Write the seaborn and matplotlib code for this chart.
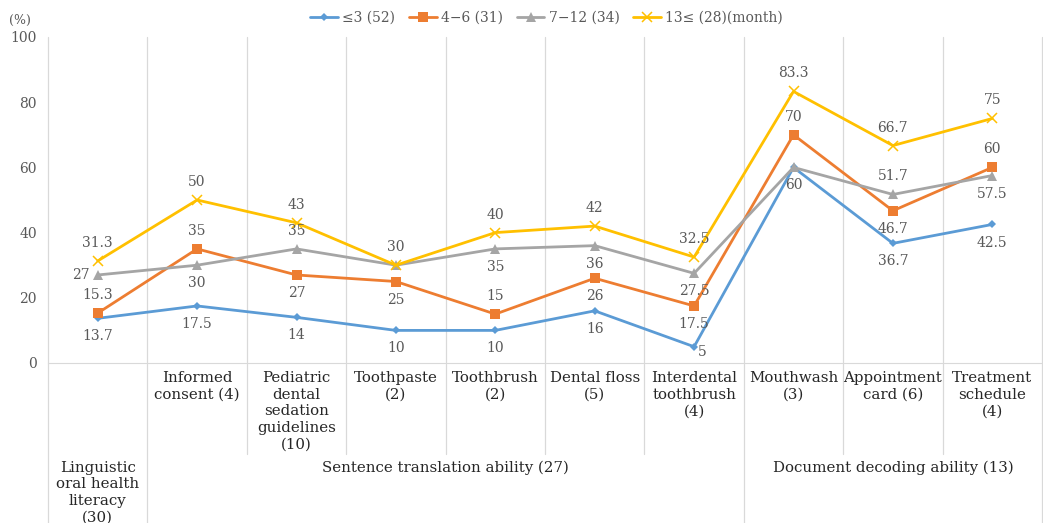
import pandas as pd
import matplotlib.pyplot as plt
import seaborn as sns

# categories and group headings
cats = ['', 'Informed\nconsent (4)', 'Pediatric\ndental\nsedation\nguidelines\n(10)',
        'Toothpaste\n(2)', 'Toothbrush\n(2)', 'Dental floss\n(5)', 'Interdental\ntoothbrush\n(4)',
        'Mouthwash\n(3)', 'Appointment\ncard (6)', 'Treatment\nschedule\n(4)']
groups = ['Linguistic\noral health\nliteracy\n(30)', 'Sentence translation ability (27)',
          'Document decoding ability (13)']
group_span = [(0, 0), (1, 6), (7, 9)]

series = ['≤3 (52)', '4−6 (31)', '7−12 (34)', '13≤ (28)(month)']
v_le3 = [13.7, 17.5, 14, 10, 10, 16, 5, 60, 36.7, 42.5]
v_4_6 = [15.3, 35, 27, 25, 15, 26, 17.5, 70, 46.7, 60]
v_7_12 = [27, 30, 35, 30, 35, 36, 27.5, 60, 51.7, 57.5]
v_13 = [31.3, 50, 43, 30, 40, 42, 32.5, 83.3, 66.7, 75]

# where each data label goes: 'a' above, 'b' below, 'l' left, 'r' lower right, '' none
pos_le3 = ['b', 'b', 'b', 'b', 'b', 'b', 'r', 'b', 'b', 'b']
pos_4_6 = ['a', 'a', 'b', 'b', 'a', 'b', 'b', 'a', 'b', 'a']
pos_7_12 = ['l', 'b', 'a', '', 'b', 'b', 'b', '', 'a', 'b']
pos_13 = ['a'] * 10

vals = [v_le3, v_4_6, v_7_12, v_13]
poss = [pos_le3, pos_4_6, pos_7_12, pos_13]
colors = ['#5B9BD5', '#ED7D31', '#A5A5A5', '#FFC000']
marks = ['D', 's', '^', 'x']
msize = [4.5, 7, 7, 6.5]

rows = []
for s, v in zip(series, vals):
    for i, y in enumerate(v):
        rows.append({'x': i, 'y': y, 'series': s})
df = pd.DataFrame(rows)

sns.set_style('white')
plt.rcParams['font.family'] = ['DejaVu Serif', 'DejaVu Sans']
txt = '#595959'
grid = '#D9D9D9'
fs = 10

fig = plt.figure(figsize=(10.43, 5.23), dpi=100)
ax = fig.add_axes([48 / 1043, 1 - 363 / 523, 994 / 1043, 326 / 523])

for s, c, m, ms in zip(series, colors, marks, msize):
    sns.lineplot(data=df[df['series'] == s], x='x', y='y', color=c, marker=m,
                 markersize=ms, markeredgecolor=c, markeredgewidth=1.1 if m == 'x' else 0,
                 linewidth=2, label=s, ax=ax, sort=False)

ax.set_xlim(-0.5, 9.5)
ax.set_ylim(0, 100)
ax.set_yticks(range(0, 101, 20))
ax.set_xticks([])
ax.set_xlabel('')
ax.set_ylabel('')
ax.tick_params(axis='y', length=0, pad=8, labelsize=fs, labelcolor=txt)
for sp in ['top', 'right', 'left']:
    ax.spines[sp].set_visible(False)
ax.spines['bottom'].set_color(grid)

# data labels
for v, p in zip(vals, poss):
    for i, (y, q) in enumerate(zip(v, p)):
        if q == '':
            continue
        lab = f'{y:g}'
        if q == 'a':
            off, ha = (0, 13), 'center'
        elif q == 'b':
            off, ha = (0, -13), 'center'
        elif q == 'r':
            off, ha = (3, -4), 'left'
        else:
            off, ha = (-6, 0), 'right'
        ax.annotate(lab, (i, y), xytext=off, textcoords='offset points',
                    ha=ha, va='center', fontsize=fs, color=txt)

# category separators that extend below the axis
tr = ax.get_xaxis_transform()
edges = [g[0] - 0.5 for g in group_span] + [9.5]
for k in range(11):
    b = k - 0.5
    low = -0.49 if b in edges else -0.28
    ax.plot([b, b], [1, low], transform=tr, color=grid, lw=0.9, clip_on=False, zorder=0)

for i, c in enumerate(cats):
    ax.text(i, -0.025, c, transform=tr, ha='center', va='top', fontsize=10.8,
            color='#262626', linespacing=1.24)
for g, (a, b) in zip(groups, group_span):
    ax.text((a + b) / 2, -0.3, g, transform=tr, ha='center', va='top', fontsize=10.8,
            color='#262626', linespacing=1.24)

ax.text(-0.028, 1.05, '(%)', transform=ax.transAxes, ha='center', va='center',
        fontsize=9, color=txt)

ax.get_legend().remove()
h, l = ax.get_legend_handles_labels()
fig.legend(h, l, loc='center', bbox_to_anchor=(0.524, 0.966), ncol=4, frameon=False,
           fontsize=fs, handlelength=2, columnspacing=1.0, handletextpad=0.3,
           labelcolor=txt)

fig.savefig('out.png', dpi=100)
